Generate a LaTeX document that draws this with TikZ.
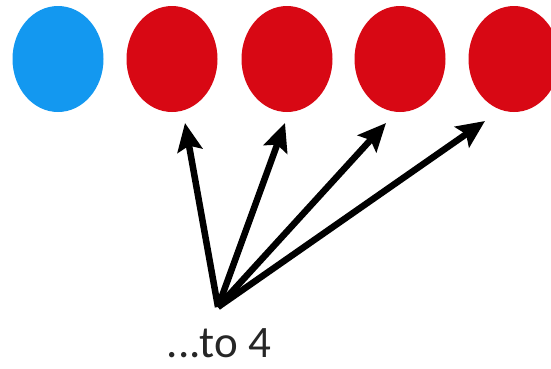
\documentclass[tikz,border=0pt]{standalone}
\usepackage{fontspec}
\setmainfont{Carlito}
\usetikzlibrary{shapes.geometric,arrows.meta}
\definecolor{ballblue}{HTML}{1398F0}
\definecolor{ballred}{HTML}{D80814}
\tikzstyle{ball}=[ellipse,inner sep=0pt,minimum width=91pt,minimum height=106pt]
\tikzstyle{pointer}=[line width=6.5pt,-{Stealth[length=28pt,width=25pt,inset=5pt]}]

\begin{document}
\begin{tikzpicture}[x=1pt,y=-1pt]
			\useasboundingbox (0,0) rectangle (551,368);
			\begin{scope}
				\node (b0)[ball,fill=ballblue] at (58,59) {};
				\foreach \nr/\xx in {1/172, 2/287, 3/400, 4/514}{
					\node (r\nr)[ball,fill=ballred] at (\xx,59) {};
				}
				
				\coordinate (src) at (218,307);
				\coordinate (t1) at (185,123);
				\coordinate (t2) at (285,123);
				\coordinate (t3) at (386,123);
				\coordinate (t4) at (485,121);
				\foreach \nr in {1, ..., 4}{
					\draw[pointer] (src) -- (t\nr);
				}
				
				\node (count)[anchor=base,inner sep=0pt,text depth=0pt] at (219,357) {\fontsize{45}{48}\selectfont\color{black!85}...to 4};
			\end{scope}
		\end{tikzpicture}
\end{document}
